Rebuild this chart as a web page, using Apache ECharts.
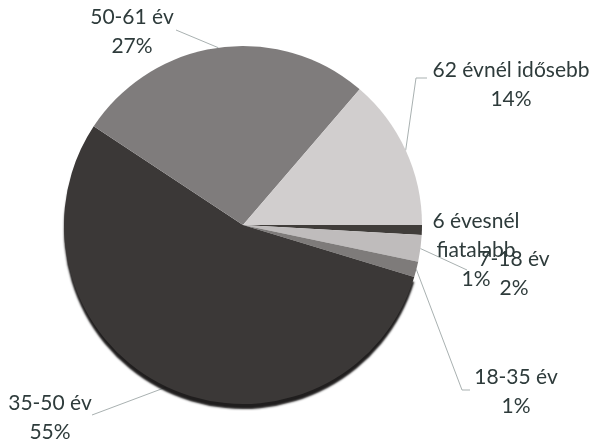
<!DOCTYPE html>
<html>
<head>
<meta charset="utf-8">
<script src="https://cdn.jsdelivr.net/npm/echarts@6/dist/echarts.min.js"></script>
<style>
html,body{margin:0;padding:0;background:#fff;}
#chart{width:595px;height:445px;}
</style>
</head>
<body>
<div id="chart"></div>
<script>
// Data
var categories = ['6 évesnél fiatalabb', '7-18 év', '18-35 év', '35-50 év', '50-61 év', '62 évnél idősebb'];
var values = [0.9, 2.4, 1.4, 54.6, 27.0, 13.7];

// Styles (kept apart from data)
var sliceColors = ['#403d3a', '#bfbcbc', '#7e7b7a', '#3b3837', '#7f7c7c', '#d1cece'];
var labelPos = [
  {x: 476, y: 250},
  {x: 514, y: 274},
  {x: 516, y: 392},
  {x: 50, y: 418},
  {x: 132, y: 32},
  {x: 511, y: 85}
];
var lineTail = [
  null,
  [[467, 270]],
  [[462, 390], [470, 390]],
  [[92, 415]],
  [[176, 30]],
  [[416, 78], [427, 78]]
];

function wrapName(n) {
  if (n.length > 17) {
    var i = n.lastIndexOf(' ');
    return n.slice(0, i) + '\n' + n.slice(i + 1);
  }
  return n;
}

var chart = echarts.init(document.getElementById('chart'));
chart.setOption({
  backgroundColor: '#ffffff',
  animation: false,
  series: [{
    type: 'pie',
    center: [243, 225],
    radius: 179,
    startAngle: 0,
    clockwise: true,
    avoidLabelOverlap: false,
    data: categories.map(function (c, i) {
      var st = { color: sliceColors[i], borderWidth: 0 };
      if (i === 3) {
        st.shadowColor = 'rgba(20,18,18,0.95)';
        st.shadowOffsetY = 5;
        st.shadowBlur = 2;
      }
      return { name: c, value: values[i], itemStyle: st };
    }),
    label: {
      show: true,
      position: 'outside',
      formatter: function (p) { return wrapName(p.name) + '\n' + Math.round(p.percent) + '%'; },
      fontFamily: 'Lato',
      fontSize: 21,
      lineHeight: 29,
      color: '#2e3b3b',
      align: 'center'
    },
    labelLine: {
      show: true,
      length: 10,
      length2: 10,
      lineStyle: { color: '#a9b1b1', width: 1 }
    },
    labelLayout: function (params) {
      var i = params.dataIndex;
      var pos = labelPos[i];
      var res = { x: pos.x, y: pos.y, align: 'center', verticalAlign: 'middle' };
      var pts = params.labelLinePoints;
      if (lineTail[i] && pts) {
        res.labelLinePoints = [pts[0]].concat(lineTail[i]);
      } else {
        res.labelLinePoints = pts ? [pts[0], pts[0], pts[0]] : undefined;
      }
      return res;
    }
  }]
});
</script>
</body>
</html>
